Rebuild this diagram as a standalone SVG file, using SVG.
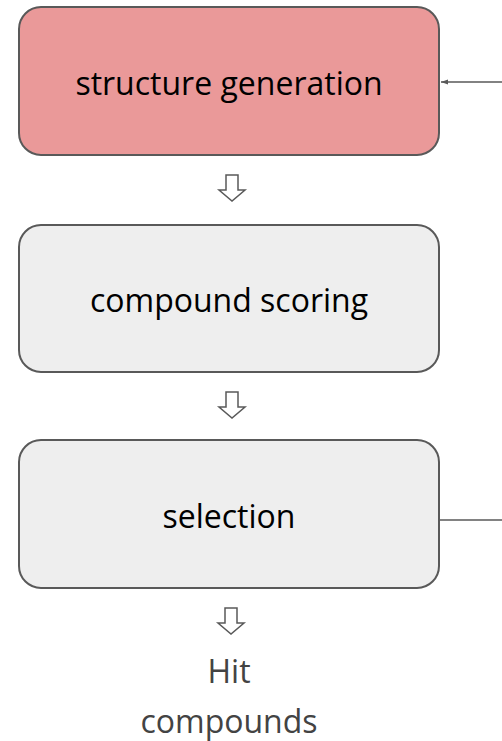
<svg xmlns="http://www.w3.org/2000/svg" width="502" height="741" viewBox="0 0 502 741">
<style>
.box{stroke:#595959;stroke-width:2}
.lbl{font-family:"Open Sans",sans-serif;font-size:32px;fill:#000;text-anchor:middle}
.out{font-family:"Open Sans",sans-serif;font-size:32px;fill:#434343;text-anchor:middle}
.harrow{fill:#fff;stroke:#595959;stroke-width:1.5;stroke-linejoin:miter}
.conn{stroke:#595959;stroke-width:1.5;fill:none}
</style>
<defs>
<marker id="ah" markerWidth="8" markerHeight="8" refX="7" refY="4" orient="auto" markerUnits="userSpaceOnUse">
<path d="M0,1.5 L7,4 L0,6.5 Z" fill="#595959"/>
</marker>
</defs>
<g id="structure-generation">
<rect class="box" x="19" y="7" width="420" height="148" rx="22" fill="#ea9999"/>
<text class="lbl" x="229" y="95">structure generation</text>
</g>
<g id="compound-scoring">
<rect class="box" x="19" y="225" width="420" height="147" rx="22" fill="#eeeeee"/>
<text class="lbl" x="229" y="312">compound scoring</text>
</g>
<g id="selection">
<rect class="box" x="19" y="440" width="420" height="148" rx="22" fill="#eeeeee"/>
<text class="lbl" x="229" y="528">selection</text>
</g>
<g id="hit-compounds">
<text class="out" x="229" y="683">Hit</text>
<text class="out" x="229" y="733">compounds</text>
</g>
<g id="connectors">
<path class="harrow" d="M226,175 H238 V190 H245 L232,201 L219,190 H226 Z"/>
<path class="harrow" d="M226,392 H238 V407 H245 L232,418 L219,407 H226 Z"/>
<path class="harrow" d="M225,608 H237 V623 H244 L231,634 L218,623 H225 Z"/>
<line class="conn" x1="502" y1="82" x2="441" y2="82" marker-end="url(#ah)"/>
<line class="conn" x1="440" y1="520" x2="502" y2="520"/>
</g>
</svg>
